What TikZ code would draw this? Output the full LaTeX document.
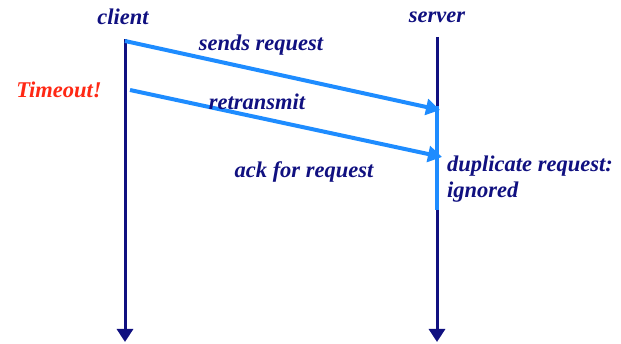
\documentclass[tikz,border=0pt]{standalone}
\usepackage{fontspec}
\setmainfont{Liberation Serif}
\usetikzlibrary{arrows.meta}
\definecolor{navy}{RGB}{16,16,128}
\definecolor{msgblue}{RGB}{30,140,255}
\definecolor{alert}{RGB}{255,40,20}
\begin{document}
\begin{tikzpicture}[x=1pt,y=-1pt,
  lbl/.style={font=\fontsize{22.5}{26}\selectfont\bfseries\itshape, text=navy, inner sep=0pt},
  timeline/.style={draw=navy, line width=3pt, -{Triangle[length=13pt,width=16pt]}},
  msg/.style={draw=msgblue, line width=4pt, -{Triangle[length=14pt,width=16pt]}}]
\useasboundingbox (0,0) rectangle (621,344);
% host names
\node[lbl] (client) at (123,17) {client};
\node[lbl] (server) at (437,17) {server};
% timelines
\coordinate (ctop) at (125,39);
\coordinate (cbot) at (125,342);
\coordinate (stop) at (437,37);
\coordinate (sbot) at (437,342);
\draw[timeline] (ctop) -- (cbot);
\draw[timeline] (stop) -- (sbot);
% server busy interval
\coordinate (busyA) at (437,106);
\coordinate (busyB) at (437,210);
\draw[msgblue, line width=4pt] (busyA) -- (busyB);
% messages
\coordinate (req0) at (125,41);
\coordinate (req1) at (440,110);
\coordinate (ret0) at (130,90);
\coordinate (ret1) at (442,157);
\draw[msg] (req0) -- (req1);
\draw[msg] (ret0) -- (ret1);
% labels
\node[lbl] (sends) at (261,45) {sends request};
\node[lbl, text=alert] (timeout) at (59,90) {Timeout!};
\node[lbl] (retx) at (257,102) {retransmit};
\node[lbl] (ack) at (304,172) {ack for request};
\node[lbl, anchor=west, align=left] (dup) at (447,179) {duplicate request:\\ignored};
\end{tikzpicture}
\end{document}
